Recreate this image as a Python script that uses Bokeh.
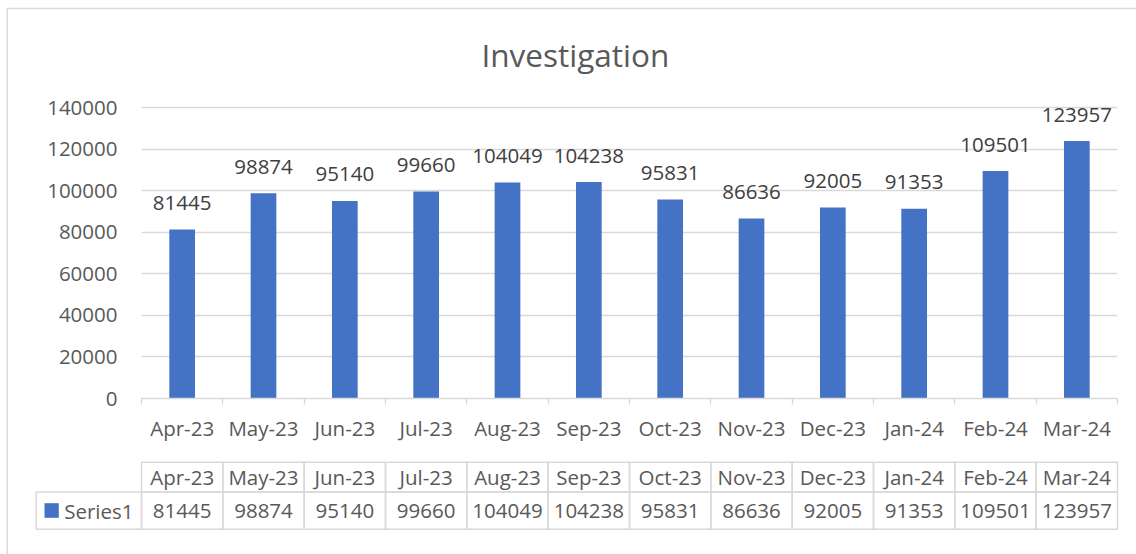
from bokeh.plotting import figure
from bokeh.layouts import column
from bokeh.models import (Range1d, FixedTicker, LabelSet, ColumnDataSource,
                          NumeralTickFormatter, LinearAxis)
from bokeh.core.properties import value
from bokeh.embed import file_html
from bokeh.resources import INLINE

# ---------------- data ----------------
months = ["Apr-23", "May-23", "Jun-23", "Jul-23", "Aug-23", "Sep-23",
          "Oct-23", "Nov-23", "Dec-23", "Jan-24", "Feb-24", "Mar-24"]
counts = [81445, 98874, 95140, 99660, 104049, 104238,
          95831, 86636, 92005, 91353, 109501, 123957]
series_name = "Series1"
title_text = "Investigation"
y_ticks = [0, 20000, 40000, 60000, 80000, 100000, 120000, 140000]

# ---------------- styles / layout ----------------
FONT = "Open Sans"
GREY = "#595959"
DARK = "#404040"
LINE = "#d9d9d9"
BAR = "#4472C4"
FS = "20.5px"
W = 1136
TOP_H = 452
TAB_H = 102
FRAME_L = 141
FRAME_R = 19
FRAME_T = 104
FRAME_B = 398            # page y of the zero line
PXU = (W - FRAME_L - FRAME_R) / len(months)   # px per category
VPX = 291.7 / 140000                          # px per unit of value

xs = [i + 0.5 for i in range(len(months))]
labels = [str(c) for c in counts]

# ---------------- chart ----------------
y_top = (FRAME_B - FRAME_T) / VPX
p = figure(width=W, height=TOP_H, x_range=Range1d(0, len(months)),
           y_range=Range1d(0, y_top), output_backend="svg", toolbar_location=None,
           min_border_left=FRAME_L, min_border_right=FRAME_R,
           min_border_top=FRAME_T, min_border_bottom=TOP_H - FRAME_B,
           title=title_text)
p.outline_line_color = None
p.title.align = "left"
p.title.offset = 340
p.title.standoff = 60
p.title.text_font = FONT
p.title.text_font_size = "31.5px"
p.title.text_font_style = "normal"
p.title.text_color = GREY

p.vbar(x=xs, top=counts, width=0.316, fill_color=BAR, line_color=None)

src = ColumnDataSource(dict(x=xs, top=counts, label=labels))
p.add_layout(LabelSet(x="x", y="top", text="label", source=src, y_offset=19.5,
                      text_align="center", text_baseline="alphabetic",
                      text_font=value(FONT), text_font_size=FS,
                      text_color=DARK))

# y axis
p.yaxis.ticker = FixedTicker(ticks=y_ticks)
p.yaxis.formatter = NumeralTickFormatter(format="0")
p.yaxis.axis_line_color = None
p.yaxis.major_tick_line_color = None
p.yaxis.minor_tick_line_color = None
p.yaxis.major_tick_out = 0
p.yaxis.major_label_standoff = 24
p.yaxis.major_label_text_font = FONT
p.yaxis.major_label_text_font_size = FS
p.yaxis.major_label_text_color = GREY
p.ygrid.ticker = FixedTicker(ticks=y_ticks)
p.ygrid.grid_line_color = LINE
p.ygrid.grid_line_width = 1.3
p.xgrid.visible = False

# x axis
p.xaxis.ticker = FixedTicker(ticks=xs, minor_ticks=list(range(len(months) + 1)))
p.xaxis.major_label_overrides = {x: m for x, m in zip(xs, months)}
p.xaxis.major_tick_line_color = None
p.xaxis.minor_tick_line_color = LINE
p.xaxis.minor_tick_line_width = 1.3
p.xaxis.minor_tick_in = 0
p.xaxis.minor_tick_out = 6
p.xaxis.axis_line_color = LINE
p.xaxis.axis_line_width = 1.3
p.xaxis.major_label_standoff = 9
p.xaxis.major_label_text_font = FONT
p.xaxis.major_label_text_font_size = FS
p.xaxis.major_label_text_color = GREY

# outer chart border (left and top edges)
bx = (6.7 - FRAME_L) / PXU
p.segment(x0=[bx, bx], y0=[(FRAME_B - 6.7) / VPX, (FRAME_B - 6.7) / VPX],
          x1=[bx, (W + 5 - FRAME_L) / PXU], y1=[(FRAME_B - TOP_H - 2) / VPX, (FRAME_B - 6.7) / VPX],
          line_color=LINE, line_width=1.5, level="overlay")

# ---------------- data table ----------------
T_TOP = 460          # page y of the table frame top
T_BOT = 531          # page y of the table frame bottom
t = figure(width=W, height=TAB_H,
           x_range=Range1d(0, len(months)),
           y_range=Range1d(0, T_BOT - T_TOP), output_backend="svg", toolbar_location=None,
           min_border_left=FRAME_L, min_border_right=FRAME_R,
           min_border_top=T_TOP - TOP_H, min_border_bottom=TOP_H + TAB_H - T_BOT,
           x_axis_location=None, y_axis_location=None, title=None)
t.outline_line_color = None
t.grid.visible = False

def ty(page_y):
    return T_BOT - page_y

row_bot, row_mid, row_top = ty(528.8), ty(491.5), ty(461.7)
label_left = (35.7 - FRAME_L) / PXU
n = len(months)
# header row cells
t.quad(left=list(range(n)), right=list(range(1, n + 1)), bottom=row_mid, top=row_top,
       fill_color=None, line_color=LINE, line_width=1.5, level="overlay")
# series row cells
t.quad(left=[label_left] + list(range(n)), right=[0] + list(range(1, n + 1)),
       bottom=row_bot, top=row_mid, fill_color=None, line_color=LINE, line_width=1.5,
       level="overlay")
# header text and values
hsrc = ColumnDataSource(dict(x=xs, yh=[ty(484)] * n, yv=[ty(517.7)] * n,
                             month=months, label=labels))
t.add_layout(LabelSet(x="x", y="yh", text="month", source=hsrc,
                      text_align="center", text_baseline="alphabetic",
                      text_font=value(FONT), text_font_size=FS, text_color=GREY))
t.add_layout(LabelSet(x="x", y="yv", text="label", source=hsrc,
                      text_align="center", text_baseline="alphabetic",
                      text_font=value(FONT), text_font_size=FS, text_color=GREY))
# series name via a left axis, legend key as a small box
name_y = ty(510.4)
ax = LinearAxis(ticker=FixedTicker(ticks=[name_y]),
                major_label_overrides={name_y: series_name},
                axis_line_color=None, major_tick_line_color=None,
                minor_tick_line_color=None, major_tick_out=0,
                major_label_standoff=8, major_label_text_font=FONT,
                major_label_text_font_size=FS, major_label_text_color=GREY)
t.add_layout(ax, "left")
t.quad(left=[(44 - FRAME_L) / PXU], right=[(58.3 - FRAME_L) / PXU],
       bottom=[ty(517.3)], top=[ty(502.7)], fill_color=BAR, line_color=None, level="overlay")
# outer border, left edge
t.segment(x0=[bx], y0=[ty(TOP_H - 2)], x1=[bx], y1=[ty(TOP_H + TAB_H + 2)],
          line_color=LINE, line_width=1.5, level="overlay")

layout = column(p, t)
open("out.html", "w").write(file_html(layout, INLINE))
